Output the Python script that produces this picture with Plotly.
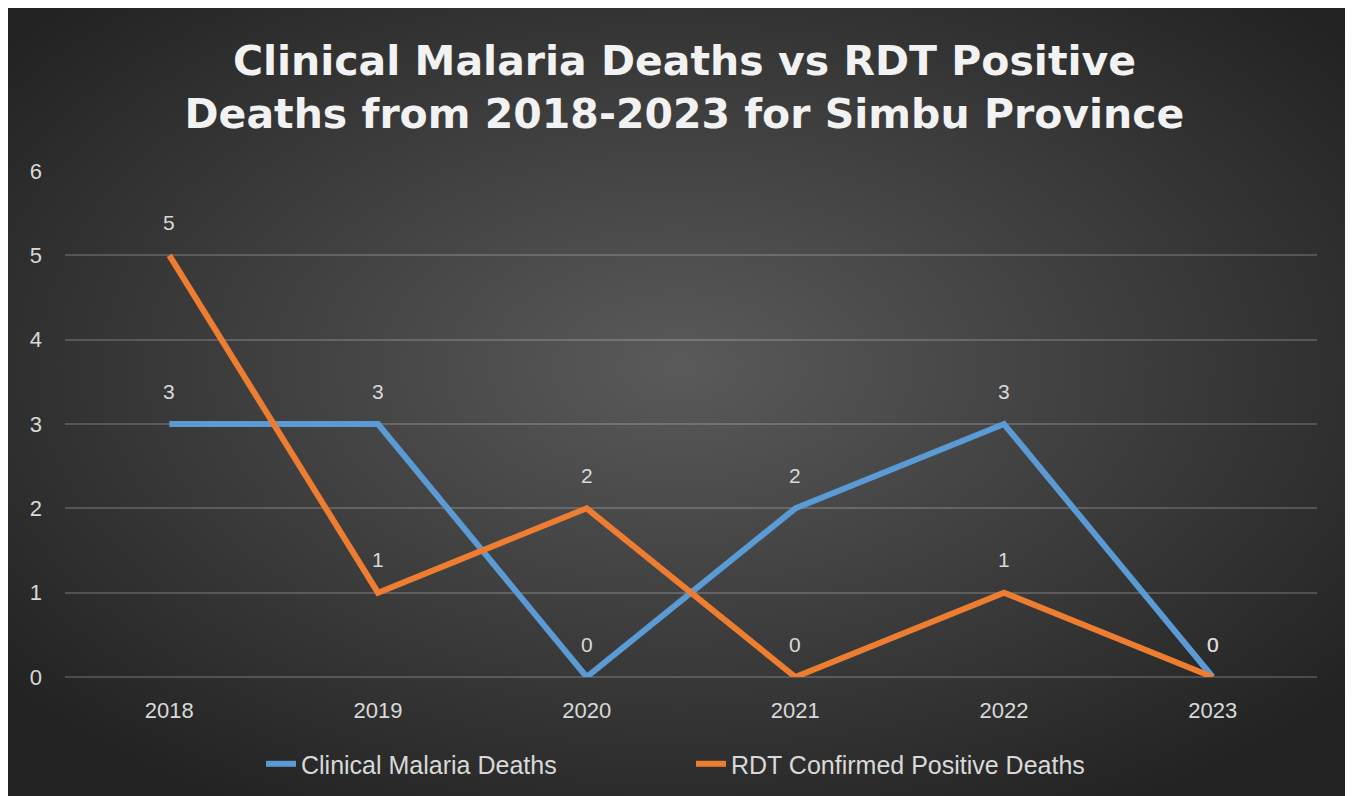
import plotly.graph_objects as go
import base64

years = ["2018", "2019", "2020", "2021", "2022", "2023"]
clinical = [3, 3, 0, 2, 3, 0]
rdt = [5, 1, 2, 0, 1, 0]
y_ticks = [0, 1, 2, 3, 4, 5, 6]

W, H = 1353, 796
L, R, T, B = 57, 44, 163, 127
pw, ph = W - L - R, H - T - B

svg = f'''<svg xmlns="http://www.w3.org/2000/svg" width="{W}" height="{H}" preserveAspectRatio="none">
<defs><radialGradient id="g" cx="50%" cy="45%" r="65%">
<stop offset="0%" stop-color="#5a5a5a"/><stop offset="100%" stop-color="#222222"/>
</radialGradient></defs>
<rect width="100%" height="100%" fill="url(#g)"/></svg>'''
src = "data:image/svg+xml;base64," + base64.b64encode(svg.encode()).decode()

fig = go.Figure()
series = [("Clinical Malaria Deaths", clinical, "#5B9BD5"),
          ("RDT Confirmed Positive Deaths", rdt, "#ED7D31")]
for name, vals, col in series:
    fig.add_trace(go.Scatter(x=years, y=vals, mode="lines", name=name,
                             line=dict(color=col, width=6), cliponaxis=False))
    for i, v in enumerate(vals):
        fig.add_annotation(x=i, y=v, xref="x", yref="y", text=str(v), showarrow=False, yshift=33,
                           font=dict(color="#D9D9D9", size=21, family="Liberation Sans"))

x0 = -L / pw
x1 = (W - 11 - L) / pw
fig.add_layout_image(dict(source=src, xref="paper", yref="paper", x=x0, y=(ph + T) / ph,
                          sizex=x1 - x0, sizey=H / ph, xanchor="left", yanchor="top",
                          sizing="stretch", layer="below"))

fig.update_layout(
    width=W, height=H,
    margin=dict(l=L, r=R, t=T, b=B),
    paper_bgcolor="white", plot_bgcolor="rgba(0,0,0,0)",
    title=dict(text="Clinical Malaria Deaths vs RDT Positive<br>Deaths from 2018-2023 for Simbu Province",
               x=0.5, xanchor="center", y=0.916, yanchor="top",
               font=dict(family="DejaVu Sans", size=41, color="#F2F2F2", weight="bold")),
    xaxis=dict(type="category", range=[-0.5, 5.5], showgrid=False, zeroline=False, showline=False,
               tickfont=dict(color="#D9D9D9", size=22, family="Liberation Sans"), ticks="", ticklabelstandoff=18),
    yaxis=dict(range=[0, 6], tickvals=y_ticks, showgrid=True, gridcolor="rgba(255,255,255,0.18)", gridwidth=1.5,
               zeroline=True, zerolinecolor="rgba(255,255,255,0.18)", zerolinewidth=1.5, showline=False,
               tickfont=dict(color="#D9D9D9", size=22, family="Liberation Sans"), ticks="", ticklabelstandoff=22),
    legend=dict(orientation="h", x=0.5, xanchor="center", y=-0.172, yanchor="middle",
                font=dict(color="#D9D9D9", size=25, family="Liberation Sans Narrow, Liberation Sans"),
                bgcolor="rgba(0,0,0,0)", entrywidth=385, entrywidthmode="pixels"),
    showlegend=True,
)

fig.write_html("out.html")
